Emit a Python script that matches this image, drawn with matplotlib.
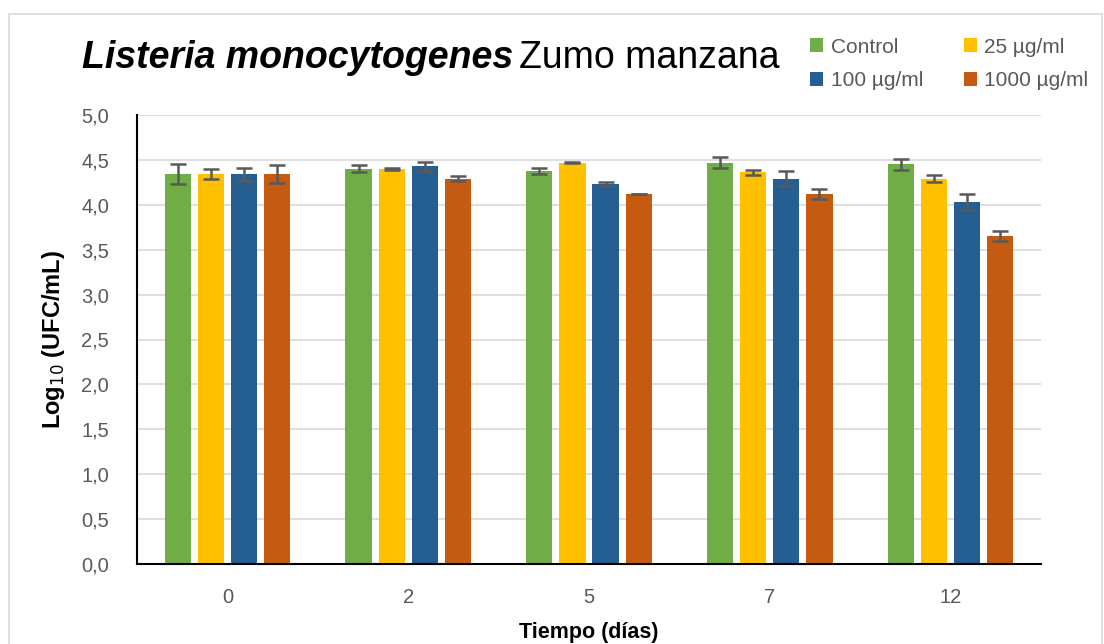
import matplotlib
matplotlib.use("Agg")
import matplotlib.pyplot as plt
import numpy as np
from matplotlib.patches import Rectangle

days = ["0", "2", "5", "7", "12"]
series = ["Control", "25 µg/ml", "100 µg/ml", "1000 µg/ml"]
colors = ["#70AD47", "#FFC000", "#255E91", "#C55A11"]
control = [4.34, 4.40, 4.38, 4.47, 4.45]
c25 = [4.34, 4.40, 4.47, 4.36, 4.29]
c100 = [4.34, 4.43, 4.23, 4.29, 4.03]
c1000 = [4.34, 4.29, 4.12, 4.12, 3.65]
err_control = [0.11, 0.04, 0.035, 0.06, 0.06]
err_c25 = [0.055, 0.01, 0.01, 0.03, 0.04]
err_c100 = [0.07, 0.05, 0.025, 0.085, 0.085]
err_c1000 = [0.10, 0.03, 0.005, 0.06, 0.055]
yticks = [0.0, 0.5, 1.0, 1.5, 2.0, 2.5, 3.0, 3.5, 4.0, 4.5, 5.0]

values = [control, c25, c100, c1000]
errors = [err_control, err_c25, err_c100, err_c1000]

plt.rcParams['font.family'] = ['Liberation Sans', 'DejaVu Sans']

W, H = 1104, 644
fig = plt.figure(figsize=(W / 100, H / 100), dpi=100)
ax = fig.add_axes([137 / W, 1 - 564 / H, (1041 - 137) / W, (564 - 115) / H])

# chart border
fig.patches.append(Rectangle((8.5 / W, -0.01), (1102 - 8.5) / W, 1 - 14 / H + 0.01,
                             transform=fig.transFigure, fill=False,
                             edgecolor="#D9D9D9", linewidth=1.2))

x = np.arange(len(days))
step = 0.183
width = 0.145
bars = []
for i, (vals, errs, col, name) in enumerate(zip(values, errors, colors, series)):
    off = (i - 1.5) * step
    b = ax.bar(x + off, vals, width, color=col, label=name, zorder=2,
               yerr=errs, ecolor="#595959",
               error_kw=dict(elinewidth=1.8, capsize=6, capthick=1.8, zorder=3))
    bars.append(b)

ax.set_xlim(-0.5, len(days) - 0.5)
ax.set_ylim(0, 5.0)
ax.set_yticks(yticks)
ax.set_yticklabels([f"{t:.1f}".replace(".", ",") for t in yticks])
ax.set_xticks(x)
ax.set_xticklabels(days)
ax.tick_params(axis="both", length=0, labelsize=14.5, labelcolor="#595959")
ax.tick_params(axis="x", pad=17)
ax.tick_params(axis="y", pad=20)
ax.yaxis.grid(True, color="#D9D9D9", linewidth=1.2, zorder=0)
ax.set_axisbelow(True)
for s in ["top", "right"]:
    ax.spines[s].set_visible(False)
for s in ["left", "bottom"]:
    ax.spines[s].set_color("black")
    ax.spines[s].set_linewidth(1.5)

ax.set_ylabel("Log$_{10}$ (UFC/mL)", fontsize=17, fontweight="bold", labelpad=10)
ax.set_xlabel("Tiempo (días)", fontsize=15.5, fontweight="bold", labelpad=11)

# title
t1 = fig.text(82 / W, 1 - 58 / H, "Listeria monocytogenes", fontsize=27,
              fontweight="bold", fontstyle="italic", va="center", ha="left")
fig.canvas.draw()
bb = t1.get_window_extent()
fig.text(bb.x1 / W + 6 / W, 1 - 58 / H, "Zumo manzana", fontsize=27,
         va="center", ha="left")

# legend: row-major order (Control, 25 / 100, 1000)
order = [0, 2, 1, 3]
leg = fig.legend([bars[k] for k in order], [series[k] for k in order],
                 loc="upper left", bbox_to_anchor=(791 / W, 1 - 19 / H), ncol=2,
                 frameon=False, fontsize=15, handlelength=0.65, handleheight=0.65,
                 handletextpad=0.35, columnspacing=1.95, labelspacing=0.7)
for txt in leg.get_texts():
    txt.set_color("#595959")

fig.savefig("out.png", dpi=100)
